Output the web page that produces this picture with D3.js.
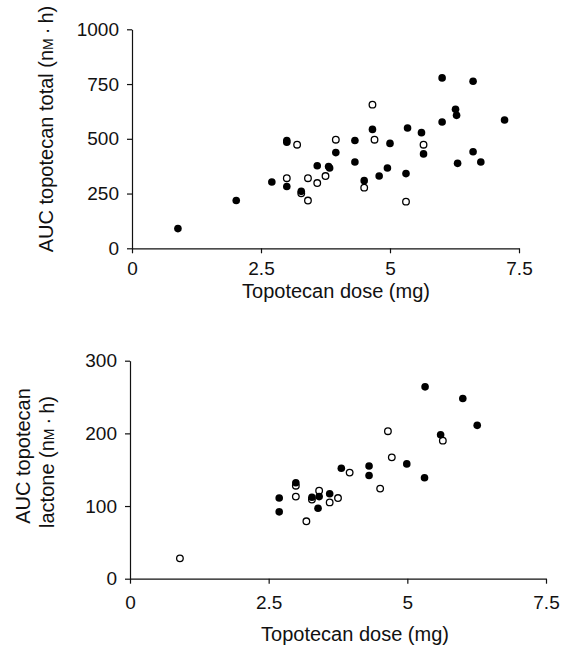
<!DOCTYPE html>
<html>
<head>
<meta charset="utf-8">
<script src="https://cdn.jsdelivr.net/npm/d3@7"></script>
<style>
  body { margin: 0; background: #fff; }
  text { font-family: "Liberation Sans", Arial, Helvetica, sans-serif; fill: #111; }
</style>
</head>
<body>
<div id="chart-area"></div>
<script>
// dose (mg) / AUC values
var totalFilledDose = [0.89, 2.02, 2.71, 3.00, 3.00, 3.00, 3.28, 3.59, 3.81, 3.83, 3.95, 4.32, 4.32, 4.50, 4.66, 4.79, 4.95, 5.00, 5.31, 5.34, 5.61, 5.65, 6.01, 6.01, 6.27, 6.29, 6.31, 6.61, 6.61, 6.76, 7.22];
var totalFilledAuc  = [90, 218, 303, 492, 484, 282, 260, 377, 373, 367, 437, 492, 394, 309, 543, 330, 367, 479, 341, 549, 528, 431, 778, 577, 635, 607, 388, 763, 441, 394, 586];
var totalOpenDose = [3.00, 3.20, 3.28, 3.41, 3.41, 3.59, 3.75, 3.95, 4.50, 4.66, 4.70, 5.31, 5.65];
var totalOpenAuc  = [320, 473, 251, 320, 218, 298, 330, 496, 277, 656, 496, 213, 473];

var lactFilledDose = [2.69, 2.69, 2.99, 3.28, 3.41, 3.39, 3.60, 3.81, 4.31, 4.31, 4.99, 5.31, 5.32, 5.60, 6.00, 6.26];
var lactFilledAuc  = [111, 92, 132, 112, 113, 97, 117, 152, 155, 142, 158, 139, 264, 198, 248, 211];
var lactOpenDose = [0.90, 2.99, 2.99, 3.18, 3.28, 3.41, 3.60, 3.75, 3.96, 4.51, 4.65, 4.72, 5.64];
var lactOpenAuc  = [28, 128, 113, 79, 109, 121, 105, 111, 146, 124, 203, 167, 190];

var xTicks = [0, 2.5, 5, 7.5];
var yTicksTotal = [0, 250, 500, 750, 1000];
var yTicksLact = [0, 100, 200, 300];

var width = 563, height = 645;

var svg = d3.select("#chart-area")
    .append("svg")
    .attr("width", width)
    .attr("height", height);

function zip(xs, ys) {
    return xs.map((d, i) => { return {dose: d, auc: ys[i]}; });
}

function panel(opt) {
    var x = d3.scaleLinear().domain([0, 7.5]).range([opt.left, opt.right]);
    var y = d3.scaleLinear().domain([0, opt.ymax]).range([opt.bottom, opt.top]);

    var xAxis = d3.axisBottom(x)
        .tickValues(xTicks)
        .tickSize(5)
        .tickSizeOuter(0)
        .tickPadding(opt.xPad)
        .tickFormat((d) => { return d; });
    var yAxis = d3.axisLeft(y)
        .tickValues(opt.yTicks)
        .tickSize(5)
        .tickSizeOuter(0)
        .tickPadding(8)
        .tickFormat((d) => { return d; });

    var gx = svg.append("g")
        .attr("transform", "translate(0," + opt.bottom + ")")
        .call(xAxis);
    var gy = svg.append("g")
        .attr("transform", "translate(" + opt.left + ",0)")
        .call(yAxis);

    [gx, gy].forEach((g) => {
        g.select(".domain").attr("stroke", "#111").attr("stroke-width", 1.2);
        g.selectAll(".tick line").attr("stroke", "#111").attr("stroke-width", 1.2);
        g.selectAll(".tick text")
            .attr("font-size", "19px")
            .attr("font-family", "Liberation Sans, Arial, sans-serif")
            .attr("fill", "#111");
    });

    // open circles first, filled on top
    svg.append("g").selectAll("circle")
        .data(zip(opt.openDose, opt.openAuc))
        .enter().append("circle")
        .attr("cx", (d) => { return x(d.dose); })
        .attr("cy", (d) => { return y(d.auc); })
        .attr("r", 3.3)
        .attr("fill", "#fff")
        .attr("stroke", "#000")
        .attr("stroke-width", 1.3);

    svg.append("g").selectAll("circle")
        .data(zip(opt.filledDose, opt.filledAuc))
        .enter().append("circle")
        .attr("cx", (d) => { return x(d.dose); })
        .attr("cy", (d) => { return y(d.auc); })
        .attr("r", 3.8)
        .attr("fill", "#000");

    // x axis label
    svg.append("text")
        .attr("x", opt.xTitleX)
        .attr("y", opt.xTitleY)
        .attr("font-size", "20px")
        .attr("text-anchor", "middle")
        .text("Topotecan dose (mg)");
}

// y label with small-caps M in nM
function yLabel(g, before) {
    var t = g.append("text")
        .attr("font-size", "20px")
        .attr("text-anchor", "middle");
    t.append("tspan").text(before + "(n");
    t.append("tspan").attr("font-size", "14px").text("M");
    t.append("tspan").text("\u2009\u00b7\u2009h)");
    return t;
}

panel({
    left: 132, right: 519, top: 29.3, bottom: 248.3,
    ymax: 1000, yTicks: yTicksTotal, xPad: 8,
    filledDose: totalFilledDose, filledAuc: totalFilledAuc,
    openDose: totalOpenDose, openAuc: totalOpenAuc,
    xTitleX: 336, xTitleY: 298
});

panel({
    left: 130, right: 546, top: 360.7, bottom: 578.7,
    ymax: 300, yTicks: yTicksLact, xPad: 12,
    filledDose: lactFilledDose, filledAuc: lactFilledAuc,
    openDose: lactOpenDose, openAuc: lactOpenAuc,
    xTitleX: 355, xTitleY: 641
});

// top y title
var gt = svg.append("g").attr("transform", "translate(53,129) rotate(-90)");
yLabel(gt, "AUC topotecan total ");

// bottom y title, two lines
var gb = svg.append("g").attr("transform", "translate(30,456) rotate(-90)");
gb.append("text")
    .attr("font-size", "20px")
    .attr("text-anchor", "middle")
    .text("AUC topotecan");
var gb2 = svg.append("g").attr("transform", "translate(54,462) rotate(-90)");
yLabel(gb2, "lactone ");
</script>
</body>
</html>
